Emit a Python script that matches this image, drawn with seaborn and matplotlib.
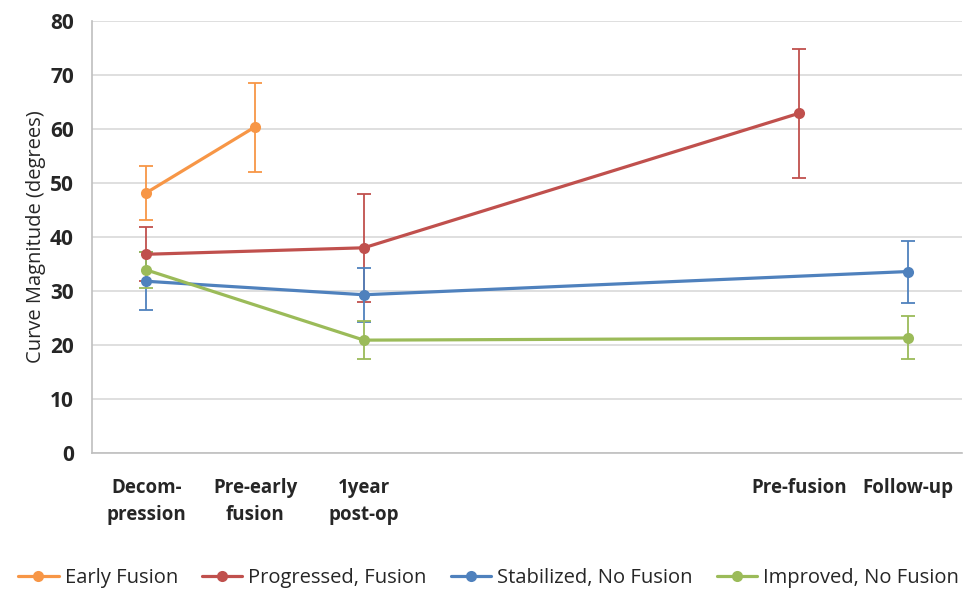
import matplotlib
matplotlib.use("Agg")
import matplotlib.pyplot as plt
import seaborn as sns
import pandas as pd
import numpy as np

# Data
stage_labels = ["Decom-\npression", "Pre-early\nfusion", "1year\npost-op", "Pre-fusion", "Follow-up"]
stage_pos = [0, 1, 2, 6, 7]

groups = ["Early Fusion", "Progressed, Fusion", "Stabilized, No Fusion", "Improved, No Fusion"]
colors = ["#F79646", "#C0504D", "#4F81BD", "#9BBB59"]

early_x = [0, 1]
early_mean = [48.2, 60.4]
early_lo = [43.1, 52.0]
early_hi = [53.2, 68.5]

prog_x = [0, 2, 6]
prog_mean = [36.8, 38.0, 62.9]
prog_lo = [31.8, 28.0, 50.9]
prog_hi = [41.8, 47.9, 74.9]

stab_x = [0, 2, 7]
stab_mean = [31.8, 29.3, 33.6]
stab_lo = [26.4, 24.2, 27.8]
stab_hi = [37.2, 34.3, 39.2]

impr_x = [0, 2, 7]
impr_mean = [33.9, 20.9, 21.3]
impr_lo = [30.6, 17.4, 17.4]
impr_hi = [37.2, 24.4, 25.4]

series = [
    (early_x, early_mean, early_lo, early_hi),
    (prog_x, prog_mean, prog_lo, prog_hi),
    (stab_x, stab_mean, stab_lo, stab_hi),
    (impr_x, impr_mean, impr_lo, impr_hi),
]

rows = []
for g, (xs, ms, lo, hi) in zip(groups, series):
    for x, m, l, h in zip(xs, ms, lo, hi):
        rows.append({"stage": x, "value": m, "lo": l, "hi": h, "group": g})
df = pd.DataFrame(rows)

sns.set_theme(style="white")
plt.rcParams['font.family'] = ['Open Sans', 'DejaVu Sans']

fig = plt.figure(figsize=(9.73, 5.91), dpi=100)
ax = fig.add_axes([0.0946, 0.2335, 0.8941, 0.731])

palette = dict(zip(groups, colors))

# Error bars
for g, c in zip(groups, colors):
    d = df[df.group == g]
    ax.errorbar(d.stage, d.value, yerr=[d.value - d.lo, d.hi - d.value],
                fmt="none", ecolor=c, elinewidth=1.3, capsize=5, capthick=1.3, zorder=2)

sns.lineplot(data=df, x="stage", y="value", hue="group", hue_order=groups,
             palette=palette, marker="o", markersize=8, markeredgewidth=0,
             linewidth=2.3, sort=True, estimator=None, ax=ax, zorder=3)

ax.set_xlim(-0.5, 7.5)
ax.set_ylim(0, 80)
ax.set_yticks(np.arange(0, 81, 10))
ax.set_xticks(stage_pos)
ax.set_xticklabels(stage_labels, fontsize=13.5, fontweight="bold", color="#262626",
                   va="top", linespacing=1.45)
ax.tick_params(axis="y", labelsize=15, labelcolor="#262626", length=0, pad=13)
for lab in ax.get_yticklabels():
    lab.set_fontweight("bold")
ax.tick_params(axis="x", length=0, pad=18)
ax.set_xlabel("")
ax.set_ylabel("Curve Magnitude (degrees)", fontsize=14.5, color="#262626", labelpad=3)

ax.yaxis.grid(True, color="#D9D9D9", linewidth=1.2)
ax.set_axisbelow(True)
for s in ["top", "right"]:
    ax.spines[s].set_visible(False)
for s in ["left", "bottom"]:
    ax.spines[s].set_color("#BFBFBF")
    ax.spines[s].set_linewidth(1.2)

handles, labels = ax.get_legend_handles_labels()
ax.legend(handles, labels, loc="center", bbox_to_anchor=(0.456, -0.29),
          ncol=4, frameon=False, fontsize=14.5, handlelength=2.0, columnspacing=1.2,
          handletextpad=0.3)

fig.savefig("out.png", dpi=100)
